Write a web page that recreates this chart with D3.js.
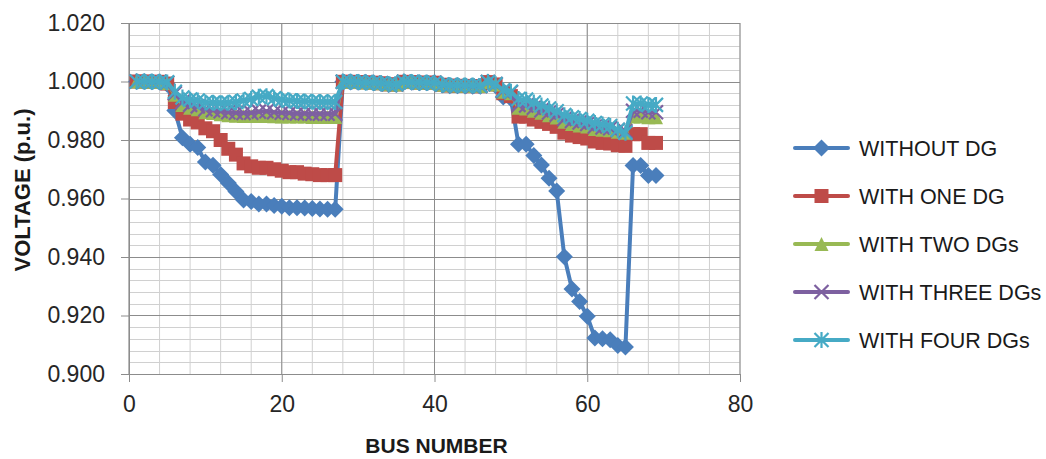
<!DOCTYPE html>
<html>
<head>
<meta charset="utf-8">
<script src="https://cdn.jsdelivr.net/npm/d3@7"></script>
<style>
  body { margin: 0; background: #fff; }
  svg { font-family: "Liberation Sans", Arial, sans-serif; }
</style>
</head>
<body>
<div id="chart"></div>
<script>
// Bus numbers 1..69
var buses = d3.range(1, 70);

// Voltage profiles (p.u.)
var withoutDG = [
  1.0000, 0.99997, 0.99993, 0.99984, 0.99902, 0.99009, 0.98079, 0.97858, 0.97745, 0.97245,
  0.97135, 0.96819, 0.96526, 0.96237, 0.95951, 0.95897, 0.95809, 0.95808, 0.95762, 0.95732,
  0.95684, 0.95683, 0.95676, 0.95660, 0.95643, 0.95636, 0.95634, 0.99993, 0.99985, 0.99973,
  0.99971, 0.99961, 0.99935, 0.99901, 0.99895, 0.99992, 0.99975, 0.99959, 0.99954, 0.99954,
  0.99884, 0.99855, 0.99851, 0.99850, 0.99841, 0.99840, 0.99979, 0.99854, 0.99470, 0.99415,
  0.97854, 0.97853, 0.97466, 0.97142, 0.96695, 0.96257, 0.94010, 0.92904, 0.92476, 0.91974,
  0.91234, 0.91205, 0.91168, 0.90977, 0.90919, 0.97129, 0.97129, 0.96786, 0.96785
];
var withOneDG = [
  1.0000, 1.0000, 0.9999, 0.9999, 0.9993, 0.9930, 0.9890, 0.9870, 0.9860, 0.9840,
  0.9830, 0.9800, 0.9770, 0.9750, 0.9720, 0.9710, 0.9705, 0.9705, 0.9700, 0.9695,
  0.9690, 0.9690, 0.9685, 0.9683, 0.9680, 0.9680, 0.9680, 0.9999, 0.9999, 0.9998,
  0.9997, 0.9996, 0.9994, 0.9990, 0.9990, 0.9999, 0.9998, 0.9996, 0.9996, 0.9996,
  0.9989, 0.9986, 0.9985, 0.9985, 0.9984, 0.9984, 0.9998, 0.9990, 0.9960, 0.9950,
  0.9880, 0.9880, 0.9870, 0.9862, 0.9855, 0.9845, 0.9825, 0.9815, 0.9810, 0.9805,
  0.9795, 0.9790, 0.9788, 0.9782, 0.9780, 0.9820, 0.9820, 0.9790, 0.9790
];
var withTwoDGs = [
  1.0000, 1.0000, 0.9999, 0.9999, 0.9995, 0.9955, 0.9920, 0.9910, 0.9905, 0.9895,
  0.9892, 0.9888, 0.9885, 0.9883, 0.9882, 0.9882, 0.9882, 0.9882, 0.9881, 0.9880,
  0.9880, 0.9880, 0.9880, 0.9879, 0.9879, 0.9879, 0.9879, 0.9999, 0.9999, 0.9998,
  0.9997, 0.9996, 0.9994, 0.9991, 0.9990, 0.9999, 0.9998, 0.9996, 0.9996, 0.9996,
  0.9989, 0.9987, 0.9986, 0.9986, 0.9985, 0.9985, 0.9998, 0.9990, 0.9965, 0.9960,
  0.9910, 0.9908, 0.9900, 0.9893, 0.9885, 0.9877, 0.9862, 0.9855, 0.9850, 0.9846,
  0.9838, 0.9835, 0.9833, 0.9828, 0.9825, 0.9880, 0.9880, 0.9878, 0.9878
];
var withThreeDGs = [
  1.0000, 1.0000, 0.9999, 0.9999, 0.9996, 0.9960, 0.9930, 0.9920, 0.9915, 0.9905,
  0.9902, 0.9898, 0.9895, 0.9893, 0.9892, 0.9893, 0.9897, 0.9898, 0.9895, 0.9893,
  0.9892, 0.9891, 0.9891, 0.9890, 0.9890, 0.9890, 0.9890, 0.9999, 0.9999, 0.9998,
  0.9997, 0.9996, 0.9994, 0.9991, 0.9990, 0.9999, 0.9998, 0.9996, 0.9996, 0.9996,
  0.9989, 0.9987, 0.9986, 0.9986, 0.9985, 0.9985, 0.9998, 0.9991, 0.9968, 0.9963,
  0.9920, 0.9918, 0.9910, 0.9902, 0.9894, 0.9886, 0.9872, 0.9865, 0.9860, 0.9855,
  0.9846, 0.9843, 0.9840, 0.9834, 0.9830, 0.9900, 0.9900, 0.9895, 0.9895
];
var withFourDGs = [
  1.0000, 1.0000, 0.9999, 0.9999, 0.9997, 0.9965, 0.9945, 0.9938, 0.9935, 0.9928,
  0.9927, 0.9926, 0.9927, 0.9930, 0.9935, 0.9940, 0.9948, 0.9950, 0.9943, 0.9938,
  0.9935, 0.9933, 0.9932, 0.9931, 0.9930, 0.9930, 0.9930, 0.9999, 0.9999, 0.9998,
  0.9997, 0.9996, 0.9994, 0.9991, 0.9991, 0.9999, 0.9998, 0.9997, 0.9996, 0.9996,
  0.9990, 0.9987, 0.9987, 0.9986, 0.9986, 0.9985, 0.9998, 0.9991, 0.9970, 0.9965,
  0.9940, 0.9938, 0.9928, 0.9918, 0.9908, 0.9898, 0.9885, 0.9878, 0.9872, 0.9866,
  0.9858, 0.9853, 0.9848, 0.9835, 0.9825, 0.9925, 0.9925, 0.9920, 0.9920
];

var seriesNames = ["WITHOUT DG", "WITH ONE DG", "WITH TWO DGs", "WITH THREE DGs", "WITH FOUR DGs"];
var seriesValues = [withoutDG, withOneDG, withTwoDGs, withThreeDGs, withFourDGs];
var seriesColors = ["#4A7EBB", "#BE4B48", "#98B954", "#7D60A0", "#46AAC5"];
var seriesMarkers = ["diamond", "square", "triangle", "x", "star"];

var xTicks = [0, 20, 40, 60, 80];
var yTicks = [0.900, 0.920, 0.940, 0.960, 0.980, 1.000, 1.020];

// Sizes
var svgWidth = 1046, svgHeight = 459;
var margins = {top: 23, left: 129, right: 306, bottom: 85};
var width = svgWidth - margins.left - margins.right;
var height = svgHeight - margins.top - margins.bottom;

var svg = d3.select("#chart")
  .append("svg")
    .attr("width", svgWidth)
    .attr("height", svgHeight);

var g = svg.append("g")
    .attr("transform", "translate(" + margins.left + "," + margins.top + ")");

var x = d3.scaleLinear().domain([0, 80]).range([0, width]);
var y = d3.scaleLinear().domain([0.9, 1.02]).range([height, 0]);

// Minor gridlines
g.append("g")
  .selectAll("line")
  .data(d3.range(0, 81, 4))
  .join("line")
    .attr("x1", d => x(d)).attr("x2", d => x(d))
    .attr("y1", 0).attr("y2", height)
    .attr("stroke", "#d0d0d0").attr("stroke-width", 1);
g.append("g")
  .selectAll("line")
  .data(d3.range(0, 31).map(i => 0.9 + i * 0.004))
  .join("line")
    .attr("x1", 0).attr("x2", width)
    .attr("y1", d => Math.round(y(d)) + 0.5).attr("y2", d => Math.round(y(d)) + 0.5)
    .attr("stroke", "#d0d0d0").attr("stroke-width", 1);

// Major gridlines
g.append("g")
  .selectAll("line")
  .data(xTicks)
  .join("line")
    .attr("x1", d => x(d)).attr("x2", d => x(d))
    .attr("y1", 0).attr("y2", height)
    .attr("stroke", "#8c8c8c").attr("stroke-width", 1);
g.append("g")
  .selectAll("line")
  .data(yTicks)
  .join("line")
    .attr("x1", 0).attr("x2", width)
    .attr("y1", d => Math.round(y(d)) + 0.5).attr("y2", d => Math.round(y(d)) + 0.5)
    .attr("stroke", "#8c8c8c").attr("stroke-width", 1);

// Axes
var xAxis = g.append("g")
    .attr("transform", "translate(0," + height + ")")
    .call(d3.axisBottom(x).tickValues(xTicks).tickSize(8).tickPadding(14).tickFormat(d3.format("d")));
var yAxis = g.append("g")
    .call(d3.axisLeft(y).tickValues(yTicks).tickSize(8).tickPadding(16).tickFormat(d3.format(".3f")));

[xAxis, yAxis].forEach(function(a) {
  a.select(".domain").attr("stroke", "#8c8c8c");
  a.selectAll(".tick line").attr("stroke", "#8c8c8c");
  a.selectAll(".tick text")
    .attr("fill", "#262626")
    .style("font-family", "'Liberation Sans', Arial, sans-serif")
    .style("font-size", "23px");
});

// Axis titles
svg.append("text")
  .attr("x", margins.left + x(40) + 2)
  .attr("y", 453)
  .attr("text-anchor", "middle")
  .attr("font-weight", "bold")
  .attr("font-size", "21px")
  .attr("fill", "#1a1a1a")
  .text("BUS NUMBER");

svg.append("text")
  .attr("transform", "translate(30,190) rotate(-90)")
  .attr("text-anchor", "middle")
  .attr("font-weight", "bold")
  .attr("font-size", "22px")
  .attr("fill", "#1a1a1a")
  .text("VOLTAGE (p.u.)");

// Marker drawing
function drawMarker(sel, type, color) {
  var r = 7;
  if (type === "diamond") {
    sel.append("path").attr("d", "M0," + (-r - 1.5) + "L" + (r + 1.5) + ",0L0," + (r + 1.5) + "L" + (-r - 1.5) + ",0Z")
      .attr("fill", color);
  } else if (type === "square") {
    sel.append("rect").attr("x", -r).attr("y", -r).attr("width", 2 * r).attr("height", 2 * r)
      .attr("fill", color);
  } else if (type === "triangle") {
    sel.append("path").attr("d", "M0," + (-r) + "L" + r + "," + r + "L" + (-r) + "," + r + "Z")
      .attr("fill", color);
  } else if (type === "x") {
    sel.append("path").attr("d", "M" + (-r) + "," + (-r) + "L" + r + "," + r + "M" + r + "," + (-r) + "L" + (-r) + "," + r)
      .attr("stroke", color).attr("stroke-width", 2.2).attr("fill", "none");
  } else if (type === "star") {
    sel.append("path").attr("d", "M" + (-r) + "," + (-r) + "L" + r + "," + r + "M" + r + "," + (-r) + "L" + (-r) + "," + r +
        "M0," + (-r - 1) + "L0," + (r + 1))
      .attr("stroke", color).attr("stroke-width", 2.2).attr("fill", "none");
  }
}

var line = d3.line()
  .x(d => x(d.bus))
  .y(d => y(d.v));

seriesValues.forEach(function(vals, i) {
  var pts = buses.map((b, j) => ({bus: b, v: vals[j]}));
  var sg = g.append("g");
  sg.append("path")
    .attr("d", line(pts))
    .attr("fill", "none")
    .attr("stroke", seriesColors[i])
    .attr("stroke-width", 4)
    .attr("stroke-linejoin", "round");
  sg.selectAll("g.m")
    .data(pts)
    .join("g")
      .attr("class", "m")
      .attr("transform", d => "translate(" + x(d.bus) + "," + y(d.v) + ")")
      .each(function() { drawMarker(d3.select(this), seriesMarkers[i], seriesColors[i]); });
});

// Legend
var legend = svg.append("g");
seriesNames.forEach(function(name, i) {
  var ly = 148 + i * 48;
  var lg = legend.append("g").attr("transform", "translate(0," + ly + ")");
  lg.append("line")
    .attr("x1", 795).attr("x2", 848)
    .attr("stroke", seriesColors[i]).attr("stroke-width", 4).attr("stroke-linecap", "round");
  var mg = lg.append("g").attr("transform", "translate(821.5,0)");
  drawMarker(mg, seriesMarkers[i], seriesColors[i]);
  lg.append("text")
    .attr("x", 859)
    .attr("y", 8)
    .attr("font-size", "21.5px")
    .attr("fill", "#1a1a1a")
    .text(name);
});
</script>
</body>
</html>
